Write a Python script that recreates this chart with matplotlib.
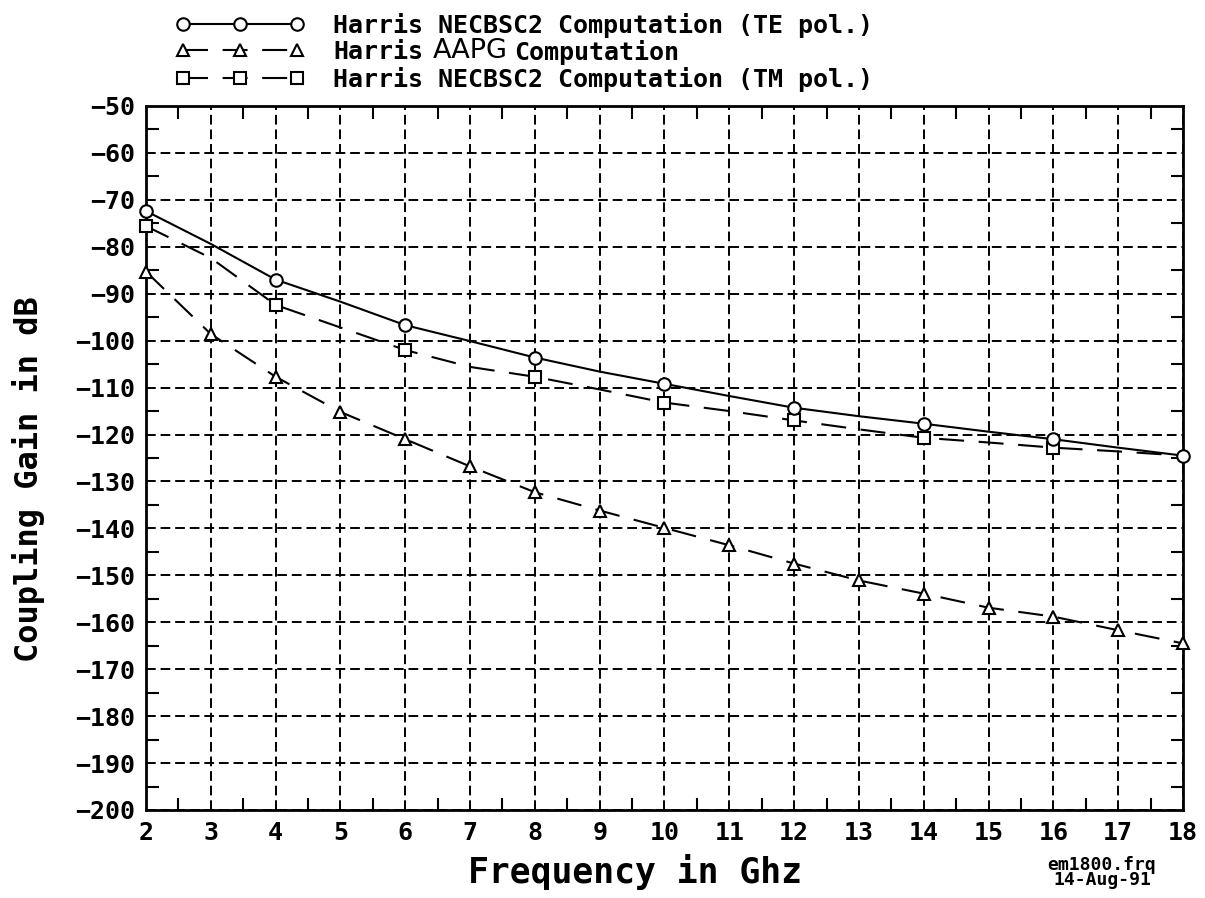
import numpy as np
import matplotlib
matplotlib.use("Agg")
import matplotlib.pyplot as plt
from matplotlib.ticker import MultipleLocator

# coupling gain vs frequency, three computations
freq = [2, 3, 4, 5, 6, 7, 8, 9, 10, 11, 12, 13, 14, 15, 16, 17, 18]
te_gain = [-72.4, -79.4, -87.0, -91.7, -96.7, -100.1, -103.6, -106.6, -109.2,
           -111.8, -114.3, -116.1, -117.7, -119.4, -121.0, -122.8, -124.5]
aapg_gain = [-85.3, -98.6, -107.7, -115.2, -121.0, -126.8, -132.3, -136.2, -139.9,
             -143.6, -147.5, -151.1, -153.9, -156.9, -158.8, -161.7, -164.5]
tm_gain = [-75.6, -82.4, -92.4, -97.2, -102.0, -105.6, -107.7, -110.4, -113.2,
           -115.0, -117.0, -118.9, -120.7, -121.7, -122.8, -123.6, -124.5]

te_label = "Harris NECBSC2 Computation (TE pol.)"
aapg_label = "Harris"
tm_label = "Harris NECBSC2 Computation (TM pol.)"

x_ticks = list(range(2, 19))
y_ticks = list(range(-200, -49, 10))

#---plot configuration---#
plt.rcParams['font.family'] = 'DejaVu Sans Mono'
plt.rcParams['font.weight'] = 'bold'
plt.rcParams['axes.labelweight'] = 'bold'

fig = plt.figure(figsize=(12.05, 8.98), dpi=100)
ax = fig.add_axes([0.1212, 0.098, 0.8605, 0.784])

lw = 1.5
ms = 9
ax.plot(freq, tm_gain, c='k', linestyle=(0, (12, 7)), linewidth=lw, marker='s', ms=ms - 1,
        mfc='white', mec='k', mew=1.5, markevery=slice(0, 15, 2), clip_on=False,
        label=tm_label, zorder=4)
ax.plot(freq, aapg_gain, c='k', linestyle=(0, (12, 7)), linewidth=lw, marker='^', ms=ms,
        mfc='white', mec='k', mew=1.5, markevery=1, clip_on=False, label=aapg_label, zorder=4)
ax.plot(freq, te_gain, c='k', linestyle='-', linewidth=lw, marker='o', ms=ms,
        mfc='white', mec='k', mew=1.5, markevery=2, clip_on=False, label=te_label, zorder=5)

ax.set_xlim(2, 18)
ax.set_ylim(-200, -50)
ax.set_xticks(x_ticks)
ax.set_yticks(y_ticks)
ax.xaxis.set_minor_locator(MultipleLocator(0.5))
ax.yaxis.set_minor_locator(MultipleLocator(5))
ax.tick_params(which='major', length=0, pad=8, labelsize=18)
ax.tick_params(which='minor', direction='in', length=9, width=1.5,
               top=True, right=True)
ax.grid(which='major', color='k', linestyle=(0, (5, 2.5)), linewidth=1.4)
for sp in ax.spines.values():
    sp.set_linewidth(2)

ax.set_xlabel('Frequency in Ghz', fontsize=25)
ax.xaxis.set_label_coords(0.4716, -0.062)
ax.set_ylabel('Coupling Gain in dB', fontsize=23)
ax.yaxis.set_label_coords(-0.097, 0.47)

# legend order: TE, AAPG, TM
h, l = ax.get_legend_handles_labels()
leg = ax.legend([h[2], h[1], h[0]], [l[2], l[1], l[0]],
                loc='upper left', bbox_to_anchor=(0.1456, 0.986), bbox_transform=fig.transFigure,
                frameon=False, borderpad=0, borderaxespad=0, numpoints=3,
                handlelength=5.16, handletextpad=1.14, labelspacing=0.1,
                prop={'size': 18, 'weight': 'bold', 'family': 'DejaVu Sans Mono'})

# rest of the second legend entry, with the hand-lettered model name
aapg_txt = leg.get_texts()[1]
ax.annotate('AAPG', xy=(0, 0.5), xycoords=aapg_txt, xytext=(137, 1),
            textcoords='offset pixels', ha='center', va='center', fontsize=19.5,
            family='DejaVu Sans', fontweight='normal', zorder=10, annotation_clip=False)
ax.annotate('Computation', xy=(0, 0.5), xycoords=aapg_txt, xytext=(181, 0),
            textcoords='offset pixels', ha='left', va='center', fontsize=18,
            fontweight='bold', zorder=10, annotation_clip=False)

fig.text(0.9145, 0.028, 'em1800.frq\n14-Aug-91', fontsize=13, ha='center', va='center',
         linespacing=0.8)

fig.savefig("out.png", dpi=100)
